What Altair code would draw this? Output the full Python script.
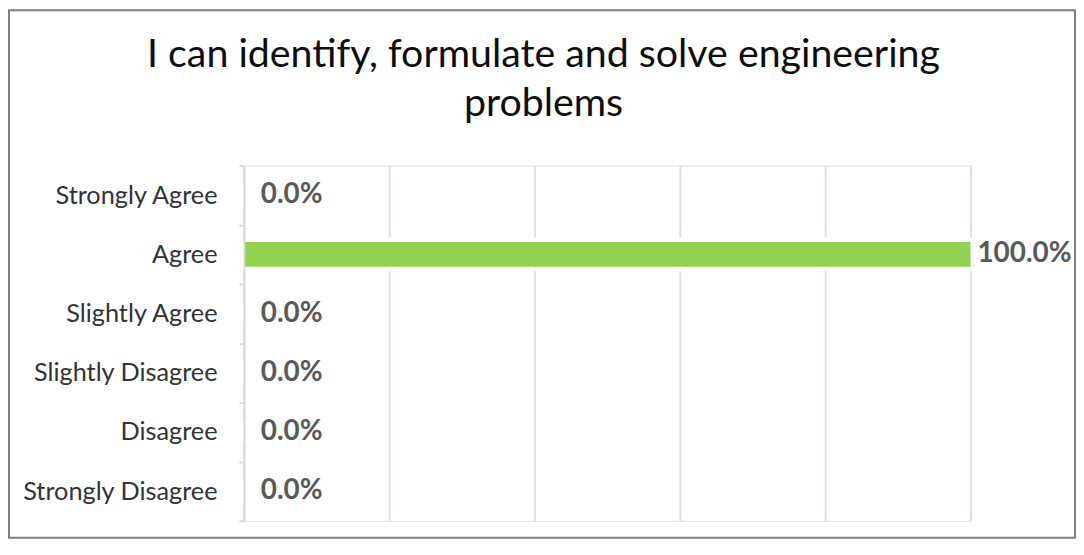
import altair as alt
import pandas as pd

categories = ["Strongly Agree", "Agree", "Slightly Agree", "Slightly Disagree", "Disagree", "Strongly Disagree"]
values = [0.0, 1.0, 0.0, 0.0, 0.0, 0.0]
x_ticks = [0, 0.2, 0.4, 0.6, 0.8, 1.0]
title_lines = ["I can identify, formulate and solve engineering", "problems"]

df = pd.DataFrame({"category": categories, "value": values})

FONT = "Lato"

y_enc = alt.Y("category:N", sort=categories, title=None,
              scale=alt.Scale(paddingInner=0, paddingOuter=0),
              axis=alt.Axis(tickBand="extent", domainColor="#D9D9D9", domainWidth=2,
                            tickColor="#D9D9D9", tickWidth=2, tickSize=5,
                            labelPadding=22, labelFontSize=25.4, labelFont=FONT,
                            labelLimit=400, labelColor="#333333", grid=False, zindex=1))
x_enc = alt.X("value:Q", title=None, scale=alt.Scale(domain=[0, 1], nice=False),
              axis=alt.Axis(values=x_ticks, labels=False, ticks=False, domain=False,
                            grid=True, gridColor="#D9E1F0", gridWidth=2))

base = alt.Chart(df)

# white halo behind bar (hides gridlines around it, as in the reference)
halo = base.mark_bar(color="white", stroke="white", strokeWidth=9,
                     height={"band": 0.42}).encode(x=x_enc, y=y_enc)
bars = base.mark_bar(color="#92D050", height={"band": 0.42}).encode(x=x_enc, y=y_enc)

lbl_zero = base.transform_filter("datum.value == 0").mark_text(
    align="left", baseline="middle", dx=17, fontSize=28, fontWeight="bold",
    font=FONT, color="#595959").encode(
    x="value:Q", y=alt.Y("category:N", sort=categories),
    text=alt.Text("value:Q", format=".1%"))

lbl_pos = base.transform_filter("datum.value > 0").mark_text(
    align="left", baseline="middle", dx=7, fontSize=28, fontWeight="bold",
    font=FONT, color="#595959").encode(
    x="value:Q", y=alt.Y("category:N", sort=categories),
    text=alt.Text("value:Q", format=".1%"))

frame = alt.Chart(alt.Data(values=[{}])).mark_rect(
    fill=None, stroke="#7F7F7F", strokeWidth=2).encode(
    x=alt.value(-236), x2=alt.value(835), y=alt.value(-156), y2=alt.value(374))

chart = alt.layer(halo, bars, lbl_zero, lbl_pos, frame).properties(
    width=730, height=357,
    autosize=alt.AutoSizeParams(type="none"),
    padding={"left": 237, "top": 157, "right": 106, "bottom": 18},
    title=alt.TitleParams(title_lines, fontSize=39.5, font=FONT, fontWeight="normal",
                          color="#0d0d0d", anchor="middle", frame="group", dx=-64,
                          offset=-116, lineHeight=49),
).configure_view(stroke=None).configure(background="white")

chart.save("out.html", embed_options={"renderer": "svg", "actions": False})
